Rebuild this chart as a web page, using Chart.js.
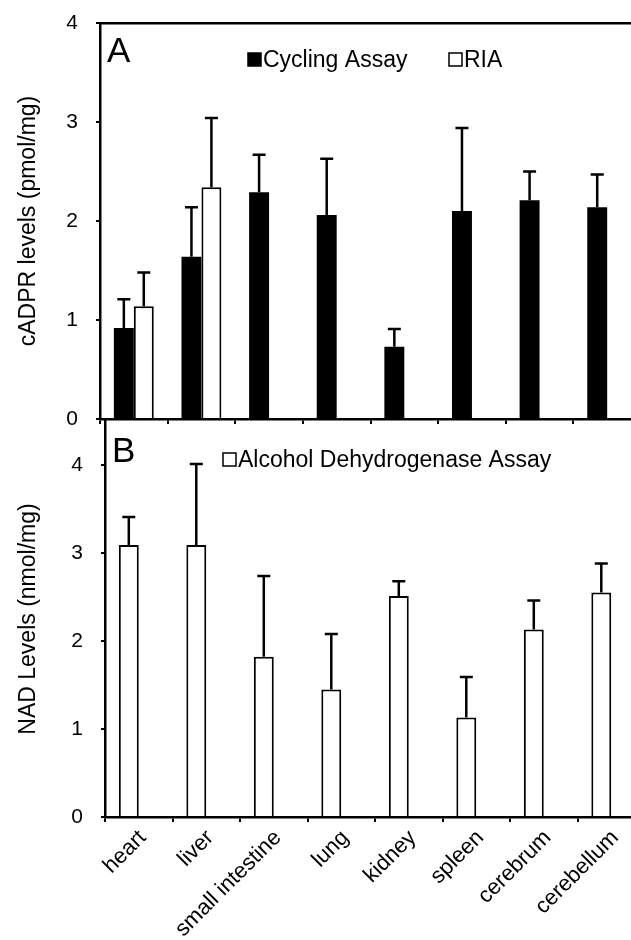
<!DOCTYPE html>
<html>
<head>
<meta charset="utf-8">
<script src="https://cdn.jsdelivr.net/npm/chart.js@4.4.1/dist/chart.umd.min.js"></script>
<style>
html, body { margin: 0; padding: 0; background: #fff; overflow: hidden; }
#wrap { position: relative; width: 631px; height: 940px; overflow: hidden; }
.panel { position: absolute; left: 0; }
</style>
</head>
<body>
<div id="wrap">
  <div class="panel" style="top:0;width:660px;height:440px"><canvas id="chartA"></canvas></div>
  <div class="panel" style="top:400px;width:660px;height:540px"><canvas id="chartB"></canvas></div>
</div>
<script>
const tissues = ["heart", "liver", "small intestine", "lung", "kidney", "spleen", "cerebrum", "cerebellum"]

// panel A: cADPR (pmol/mg)
const cyclingValues = [0.92, 1.64, 2.29, 2.06, 0.73, 2.10, 2.21, 2.14]
const cyclingErrors = [0.29, 0.50, 0.38, 0.57, 0.18, 0.84, 0.29, 0.33]
const riaValues = [1.14, 2.34, null, null, null, null, null, null]
const riaErrors = [0.34, 0.70, null, null, null, null, null, null]

// panel B: NAD (nmol/mg)
const nadValues = [3.09, 3.09, 1.82, 1.45, 2.51, 1.13, 2.13, 2.55]
const nadErrors = [0.32, 0.92, 0.92, 0.63, 0.17, 0.46, 0.33, 0.33]

const yTicks = [0, 1, 2, 3, 4]

const FONT = '"Liberation Sans", Arial, sans-serif'
Chart.defaults.font.family = FONT
Chart.defaults.color = '#000'

// one-sided (upper) error bars
const errorBars = {
    id: 'errorBars',
    afterDatasetsDraw(chart) {
        const ctx = chart.ctx
        const y = chart.scales.y
        chart.data.datasets.forEach((ds, i) => {
            if (!ds.errors) return
            chart.getDatasetMeta(i).data.forEach((bar, j) => {
                const v = ds.data[j], e = ds.errors[j]
                if (v == null || e == null) return
                const top = y.getPixelForValue(v + e)
                ctx.save()
                ctx.strokeStyle = '#000'
                ctx.lineWidth = 2.5
                ctx.beginPath()
                ctx.moveTo(bar.x, bar.y)
                ctx.lineTo(bar.x, top)
                ctx.moveTo(bar.x - 6.5, top)
                ctx.lineTo(bar.x + 6.5, top)
                ctx.stroke()
                ctx.restore()
            })
        })
    }
}

// panel letter + inline legend
const panelText = {
    id: 'panelText',
    afterDraw(chart, args, opts) {
        const ctx = chart.ctx
        ctx.save()
        ctx.fillStyle = '#000'
        ctx.textBaseline = 'alphabetic'
        ctx.font = '35px ' + FONT
        ctx.fillText(opts.letter, opts.letterX, opts.letterY)
        ctx.font = '23px ' + FONT
        opts.items.forEach(it => {
            const ds = chart.data.datasets[it.dataset]
            ctx.fillStyle = ds.backgroundColor
            ctx.fillRect(it.x, it.y - 14, 13, 13)
            ctx.strokeStyle = '#000'
            ctx.lineWidth = 1.5
            ctx.strokeRect(it.x, it.y - 14, 13, 13)
            ctx.fillStyle = '#000'
            ctx.fillText(ds.label, it.x + 15, it.y)
        })
        ctx.restore()
    }
}

function yAxis(title, max, width) {
    return {
        min: 0,
        max: max,
        afterBuildTicks: s => { s.ticks = yTicks.map(v => ({ value: v })) },
        afterFit: s => {
            s.width = width
            s.paddingTop = 0
            s.paddingBottom = 0
        },
        ticks: { padding: 18, color: '#000', font: { size: 21 } },
        grid: { drawOnChartArea: false, tickLength: 4, color: '#000', lineWidth: 2 },
        border: { color: '#000', width: 2.5 },
        title: { display: true, text: title, color: '#000', font: { size: 23 }, padding: { top: 15, bottom: 0 } }
    }
}

new Chart("chartA", {
    type: "bar",
    data: {
        labels: tissues,
        datasets: [
            { label: "Cycling Assay", data: cyclingValues, errors: cyclingErrors, backgroundColor: "#000", borderColor: "#000", borderWidth: 0 },
            { label: "RIA", data: riaValues, errors: riaErrors, backgroundColor: "#fff", borderColor: "#000", borderWidth: 2 }
        ]
    },
    options: {
        responsive: true,
        maintainAspectRatio: false,
        animation: false,
        datasets: { bar: { categoryPercentage: 0.59, barPercentage: 1 } },
        layout: { padding: { top: 23, right: 19, bottom: 16, left: 0 } },
        plugins: {
            legend: { display: false },
            tooltip: { enabled: false },
            panelText: {
                letter: "A", letterX: 107, letterY: 62,
                items: [{ dataset: 0, x: 248, y: 67 }, { dataset: 1, x: 449, y: 67 }]
            }
        },
        scales: {
            x: {
                ticks: { display: false },
                grid: { drawOnChartArea: false, tickLength: 5, color: '#000', lineWidth: 2 },
                border: { color: '#000', width: 2.5 }
            },
            x2: {
                position: 'top',
                ticks: { display: false },
                grid: { drawOnChartArea: false, drawTicks: false },
                border: { color: '#000', width: 2.5 }
            },
            y: yAxis("cADPR levels (pmol/mg)", 4, 100)
        }
    },
    plugins: [errorBars, panelText]
})

new Chart("chartB", {
    type: "bar",
    data: {
        labels: tissues,
        datasets: [
            { label: "Alcohol Dehydrogenase Assay", data: nadValues, errors: nadErrors, backgroundColor: "#fff", borderColor: "#000", borderWidth: 2 },
            { label: "", data: [] }
        ]
    },
    options: {
        responsive: true,
        maintainAspectRatio: false,
        animation: false,
        datasets: { bar: { categoryPercentage: 0.59, barPercentage: 1 } },
        layout: { padding: { top: 21, right: 15, bottom: 0, left: 0 } },
        plugins: {
            legend: { display: false },
            tooltip: { enabled: false },
            panelText: {
                letter: "B", letterX: 112, letterY: 62,
                items: [{ dataset: 0, x: 223, y: 67 }]
            }
        },
        scales: {
            x: {
                afterFit: s => { s.height = 123 },
                ticks: { autoSkip: false, minRotation: 45, maxRotation: 45, padding: 3, labelOffset: 4, color: '#000', font: { size: 22 } },
                grid: { drawOnChartArea: false, tickLength: 5, color: '#000', lineWidth: 2 },
                border: { color: '#000', width: 2.5 }
            },
            y: yAxis("NAD Levels (nmol/mg)", 4.5, 105)
        }
    },
    plugins: [errorBars, panelText]
})
</script>
</body>
</html>
